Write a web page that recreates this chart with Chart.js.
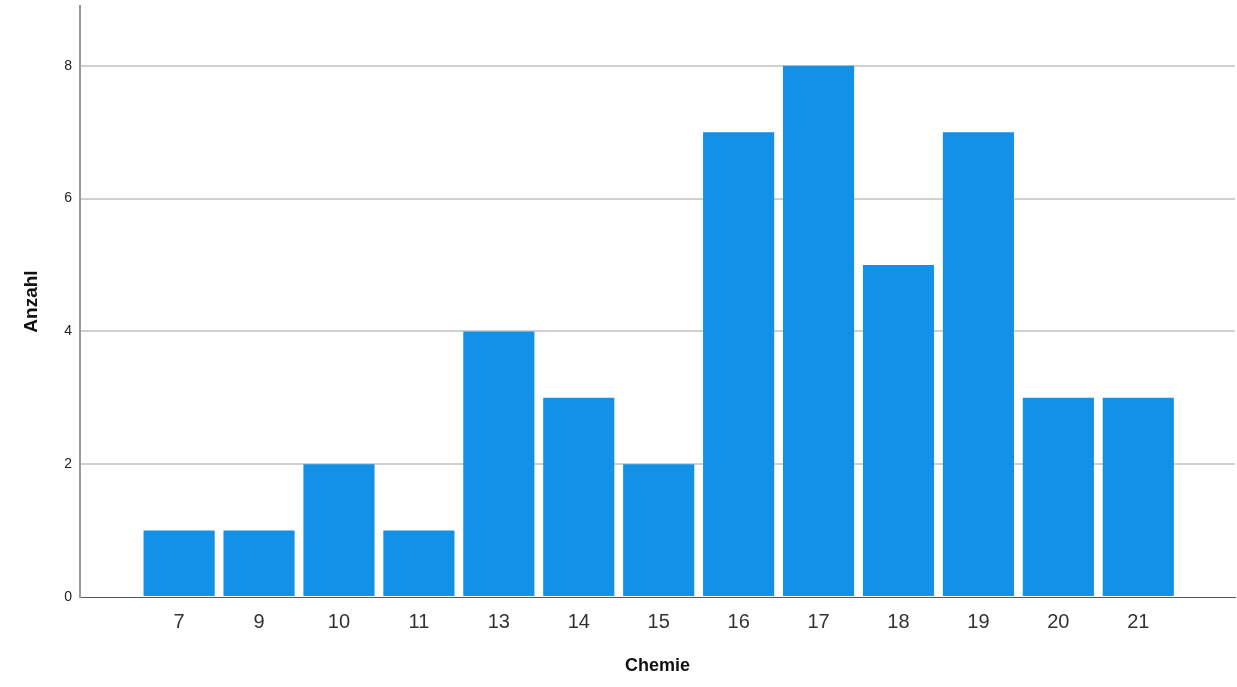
<!DOCTYPE html>
<html>
<head>
<meta charset="utf-8">
<script src="https://cdn.jsdelivr.net/npm/chart.js@4"></script>
<style>
  html, body { margin: 0; padding: 0; background: #fff; }
  #wrap { width: 1237px; height: 687px; }
</style>
</head>
<body>
<div id="wrap"><canvas id="barChart" width="1237" height="687"></canvas></div>
<script>
// Daten
const kategorien = ['7', '9', '10', '11', '13', '14', '15', '16', '17', '18', '19', '20', '21'];
const anzahl = [1, 1, 2, 1, 4, 3, 2, 7, 8, 5, 7, 3, 3];
const yTicks = [0, 2, 4, 6, 8];

const punkte = anzahl.map((v, i) => ({ x: i, y: v }));

const config = {
    type: 'bar',
    data: {
        datasets: [{
            label: 'Anzahl',
            data: punkte,
            backgroundColor: '#1391e6',
            borderWidth: 0,
            barPercentage: 0.89,
            categoryPercentage: 1.0
        }]
    },
    options: {
        responsive: false,
        animation: false,
        layout: { padding: { top: 6, right: 2, left: 0, bottom: 0 } },
        plugins: {
            legend: { display: false },
            tooltip: { enabled: false }
        },
        scales: {
            x: {
                type: 'linear',
                offset: false,
                min: -1.24,
                max: 13.21,
                afterBuildTicks: (scale) => {
                    scale.ticks = kategorien.map((_, i) => ({ value: i }));
                },
                afterFit: (scale) => {
                    scale.height = 90;
                    scale.paddingLeft = 0;
                    scale.paddingRight = 0;
                },
                grid: { display: false, drawTicks: false },
                border: { color: '#555555', width: 1 },
                ticks: {
                    color: '#333',
                    font: { family: 'Liberation Sans, Arial', size: 20 },
                    padding: 13,
                    autoSkip: false,
                    maxRotation: 0,
                    callback: (v) => kategorien[v] ?? ''
                },
                title: {
                    display: true,
                    text: 'Chemie',
                    color: '#111',
                    font: { family: 'Liberation Sans, Arial', size: 18, weight: 'bold' },
                    padding: { top: 0, bottom: 10 }
                }
            },
            y: {
                min: 0,
                max: 8.9,
                afterBuildTicks: (scale) => {
                    scale.ticks = yTicks.map(v => ({ value: v }));
                },
                afterFit: (scale) => {
                    scale.width = 80;
                    scale.paddingTop = 0;
                    scale.paddingBottom = 0;
                },
                grid: {
                    color: (ctx) => ctx.tick && ctx.tick.value === 0 ? 'rgba(0,0,0,0)' : '#d0d0d0',
                    lineWidth: 2,
                    drawTicks: false
                },
                border: { color: '#9a9a9a', width: 2 },
                ticks: {
                    color: '#222',
                    font: { family: 'Liberation Sans, Arial', size: 14 },
                    padding: 8
                },
                title: {
                    display: true,
                    text: 'Anzahl',
                    color: '#111',
                    font: { family: 'Liberation Sans, Arial', size: 19, weight: 'bold' },
                    padding: { top: 20, bottom: 0 }
                }
            }
        }
    }
};

const barChart = new Chart(document.getElementById('barChart'), config);
</script>
</body>
</html>
